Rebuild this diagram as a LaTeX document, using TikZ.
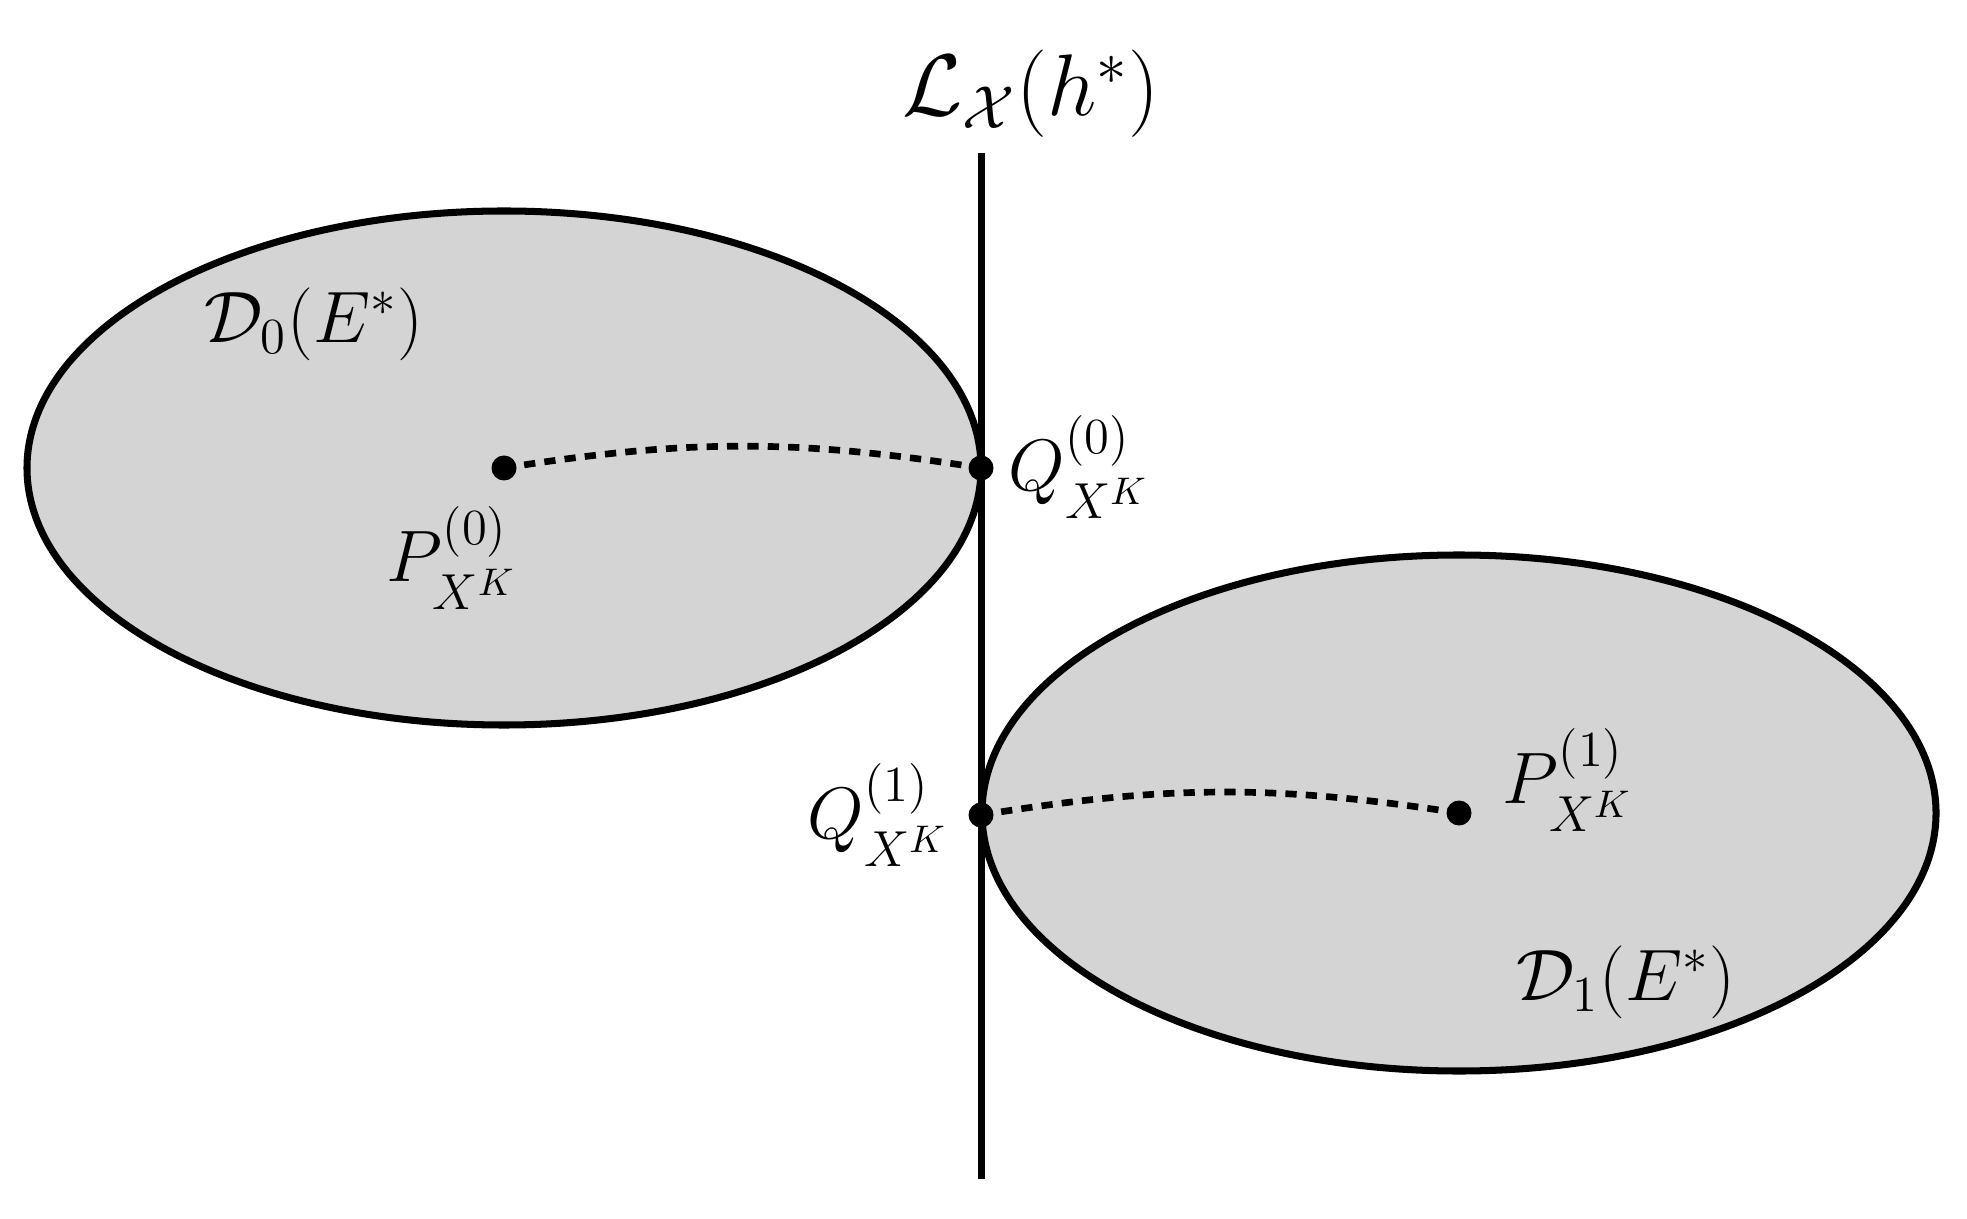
\documentclass[tikz,border=0pt]{standalone}
\usepackage{amsmath,amsfonts,amssymb}
\usepackage{tikz}
\usetikzlibrary{positioning, calc}

\tikzset{
    region/.style={draw=black, fill=black!17, line width=2pt},
    dot/.style={circle, fill=black, inner sep=0pt, minimum size=0.25cm},
    path/.style={line width=1.9pt, dash pattern=on 3.2pt off 2.6pt},
    lab/.style={font=\fontsize{22}{26}\selectfont, inner sep=0pt}
}

\begin{document}
\begin{tikzpicture}
    \useasboundingbox (0,0) rectangle (19.67,12.18);

    % Regioni
    \draw[region] (5.04,7.50) ellipse (4.77 and 2.57);
    \draw[region] (14.59,4.05) ellipse (4.77 and 2.58);

    % Retta di separazione
    \coordinate (top) at (9.81,10.65);
    \coordinate (bot) at (9.81,0.39);
    \draw[line width=2pt] (top) -- (bot);
    \node[lab, font=\fontsize{25}{30}\selectfont] (L) at (10.31,11.24) {$\mathcal{L}_{\mathcal{X}}(h^{*})$};

    % Punti
    \node[dot] (P0) at (5.04,7.50) {};
    \node[dot] (Q0) at (9.81,7.50) {};
    \node[dot] (Q1) at (9.81,4.03) {};
    \node[dot] (P1) at (14.59,4.05) {};

    % Cammini tratteggiati
    \draw[path] (P0.center) to[bend left=9] (Q0.center);
    \draw[path] (Q1.center) to[bend left=9] (P1.center);

    % Etichette
    \node[lab] (D0) at (3.14,8.94) {$\mathcal{D}_0(E^{*})$};
    \node[lab] (D1) at (16.26,2.36) {$\mathcal{D}_1(E^{*})$};
    \node[lab] (lP0) at (4.52,6.60) {$P^{(0)}_{X^K}$};
    \node[lab] (lP1) at (15.68,4.38) {$P^{(1)}_{X^K}$};
    \node[lab] (lQ0) at (10.79,7.51) {$Q^{(0)}_{X^K}$};
    \node[lab] (lQ1) at (8.78,4.03) {$Q^{(1)}_{X^K}$};
\end{tikzpicture}
\end{document}
